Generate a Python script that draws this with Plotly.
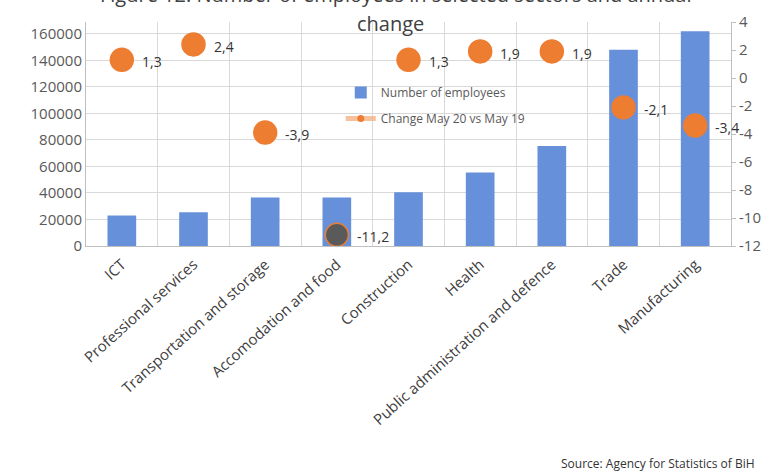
import plotly.graph_objects as go

# Sectors and their values
sectors = [
    "ICT",
    "Professional services",
    "Transportation and storage",
    "Accomodation and food",
    "Construction",
    "Health",
    "Public administration and defence",
    "Trade",
    "Manufacturing",
]
employees = [23000, 25500, 36500, 36500, 40500, 55500, 75500, 148000, 162000]
annual_change = [1.3, 2.4, -3.9, -11.2, 1.3, 1.9, 1.9, -2.1, -3.4]

left_ticks = list(range(0, 160001, 20000))
right_ticks = list(range(-12, 5, 2))

BLUE = "#6790DA"
ORANGE = "#ED7D31"
FONT = "Open Sans"

change_labels = [f"{v:.1f}".replace(".", ",") for v in annual_change]
marker_fill = [ORANGE if v > -10 else "#5A5A5A" for v in annual_change]

fig = go.Figure()

fig.add_trace(go.Bar(
    x=sectors, y=employees, name="Number of employees",
    marker=dict(color=BLUE, line=dict(width=0)), width=0.4,
    legendgroup="a",
))

fig.add_trace(go.Scatter(
    x=sectors, y=annual_change, yaxis="y2", mode="markers",
    marker=dict(size=23, color=marker_fill, line=dict(color=ORANGE, width=1.5)),
    showlegend=False, cliponaxis=False,
))

# legend entry for the change series
fig.add_trace(go.Scatter(
    x=[None], y=[None], yaxis="y2", mode="lines+markers",
    name="Change May 20 vs May 19",
    line=dict(color="rgba(244,177,131,0.8)", width=5),
    marker=dict(color=ORANGE, size=7),
    legendgroup="b",
))

# value labels next to the change markers
value_labels = [
    dict(x=s, y=v, xref="x", yref="y2", text=t, showarrow=False,
         xanchor="left", yanchor="middle", xshift=18, yshift=-2,
         font=dict(family=FONT, size=14, color="#333333"))
    for s, v, t in zip(sectors, annual_change, change_labels)
]

fig.update_layout(
    width=773, height=473,
    margin=dict(l=86, r=42, t=22, b=227),
    plot_bgcolor="white", paper_bgcolor="white",
    font=dict(family=FONT, color="#595959"),
    bargap=0.6,
    xaxis=dict(
        type="category", range=[-0.5, len(sectors) - 0.5],
        tickson="boundaries", showgrid=True,
        gridcolor="#D9D9D9", gridwidth=1, tickangle=-42,
        tickfont=dict(size=15, color="#404040"), ticklabelstandoff=3,
        showline=True, linecolor="#BFBFBF", ticks="", automargin=False,
    ),
    yaxis=dict(
        range=[0, 169000], tickvals=left_ticks,
        ticktext=[str(t) for t in left_ticks],
        showgrid=True, gridcolor="#D9D9D9", zeroline=False,
        showline=True, linecolor="#BFBFBF", automargin=False,
        tickfont=dict(size=15, color="#595959"), ticks="",
    ),
    yaxis2=dict(
        overlaying="y", side="right", range=[-12, 4],
        tickvals=right_ticks, ticktext=[str(t) for t in right_ticks],
        showgrid=False, zeroline=False, showline=True, automargin=False,
        linecolor="#BFBFBF", ticks="outside", ticklen=4,
        tickcolor="#BFBFBF",
        tickfont=dict(size=15, color="#595959"),
    ),
    legend=dict(
        x=0.395, y=0.75, xanchor="left", yanchor="top",
        bgcolor="rgba(0,0,0,0)", traceorder="grouped",
        tracegroupgap=7,
        font=dict(family=FONT, size=12, color="#595959"),
    ),
    annotations=value_labels + [
        dict(text="Figure 12: Number of employees in selected sectors and annual",
             xref="paper", yref="paper", x=0.48, y=1.125,
             xanchor="center", yanchor="middle", showarrow=False,
             font=dict(family=FONT, size=20, color="#404040")),
        dict(text="change", xref="paper", yref="paper", x=0.472, y=0.995,
             xanchor="center", yanchor="middle", showarrow=False,
             font=dict(family=FONT, size=20, color="#404040")),
        dict(text="Source: Agency for Statistics of BiH",
             xref="paper", yref="paper", x=1.04, y=-0.97,
             xanchor="right", yanchor="middle", showarrow=False,
             font=dict(family=FONT, size=12, color="#333333")),
    ],
)

fig.write_html("out.html")
